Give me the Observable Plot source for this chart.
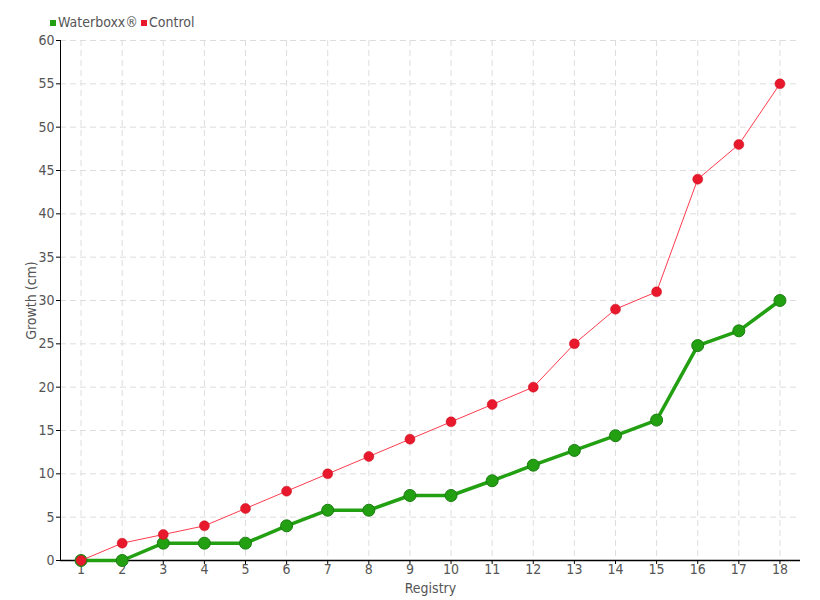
<!DOCTYPE html>
<html>
<head>
<meta charset="utf-8">
<script src="https://cdn.jsdelivr.net/npm/d3@7"></script>
<script src="https://cdn.jsdelivr.net/npm/@observablehq/plot@0.6"></script>
<style>
  html, body { margin: 0; padding: 0; background: #fff; }
  body { width: 820px; height: 600px; overflow: hidden; font-family: "DejaVu Sans Condensed", "DejaVu Sans", sans-serif; font-stretch: condensed; }
  #legend { height: 30px; position: relative; font-size: 14px; color: #555; }
  #legend .sw { position: absolute; top: 20px; width: 6px; height: 6px; }
  #legend .tx { position: absolute; top: 14px; line-height: 16px; }
</style>
</head>
<body>
<div id="legend"></div>
<div id="chart"></div>
<script>
const registry = [1,2,3,4,5,6,7,8,9,10,11,12,13,14,15,16,17,18];
const waterboxx = [0,0,2,2,2,4,5.8,5.8,7.5,7.5,9.2,11,12.7,14.4,16.2,24.8,26.5,30];
const control = [0,2,3,4,6,8,10,12,14,16,18,20,25,29,31,44,48,55];
const seriesNames = ["Waterboxx®", "Control"];
const seriesColors = ["#22a012", "#e8192c"];
const yTicks = d3.range(0, 61, 5);

const wData = registry.map((r, i) => ({r, v: waterboxx[i]}));
const cData = registry.map((r, i) => ({r, v: control[i]}));

// legend
const leg = document.getElementById("legend");
const swLeft = [50, 141];
seriesNames.forEach((n, i) => {
  const sw = document.createElement("div");
  sw.className = "sw";
  sw.style.left = swLeft[i] + "px";
  sw.style.background = seriesColors[i];
  leg.appendChild(sw);
  const tx = document.createElement("div");
  tx.className = "tx";
  tx.style.left = (swLeft[i] + 8) + "px";
  tx.textContent = n;
  leg.appendChild(tx);
});

const chart = Plot.plot({
  width: 820,
  height: 570,
  marginTop: 10,
  marginBottom: 40,
  marginLeft: 60,
  marginRight: 20,
  style: {fontFamily: '"DejaVu Sans Condensed", "DejaVu Sans", sans-serif', fontStretch: "condensed", fontSize: "14px", color: "#555", background: "#fff"},
  x: {type: "point", domain: registry, padding: 0.5, round: false},
  y: {domain: [0, 60]},
  marks: [
    Plot.gridX(registry, {stroke: "#ddd", strokeOpacity: 1, strokeDasharray: "6,4"}),
    Plot.gridY(yTicks, {stroke: "#ddd", strokeOpacity: 1, strokeDasharray: "6,4"}),
    Plot.axisY(yTicks, {tickSize: 4, tickPadding: 2, stroke: "#000", label: "Growth (cm)", labelAnchor: "center", labelArrow: "none", labelOffset: 34, fill: "#555"}),
    Plot.axisX(registry, {tickSize: 4, tickPadding: 0, stroke: "#000", label: null, fill: "#555"}),
    Plot.axisX({tickSize: 0, ticks: [], label: "Registry", labelAnchor: "center", labelArrow: "none", labelOffset: 32, fill: "#555"}),
    Plot.frame({anchor: "left", stroke: "#000"}),
    Plot.ruleY([0], {stroke: "#000", strokeWidth: 1.5}),
    Plot.line(wData, {x: "r", y: "v", stroke: seriesColors[0], strokeWidth: 3.5}),
    Plot.dot(wData, {x: "r", y: "v", r: 6, fill: seriesColors[0], stroke: "#1a7d10", strokeWidth: 1}),
    Plot.line(cData, {x: "r", y: "v", stroke: "#ff3b4e", strokeWidth: 1}),
    Plot.dot(cData, {x: "r", y: "v", r: 5, fill: seriesColors[1], stroke: "#c8101f", strokeWidth: 0.5})
  ]
});
document.getElementById("chart").appendChild(chart);
</script>
</body>
</html>
